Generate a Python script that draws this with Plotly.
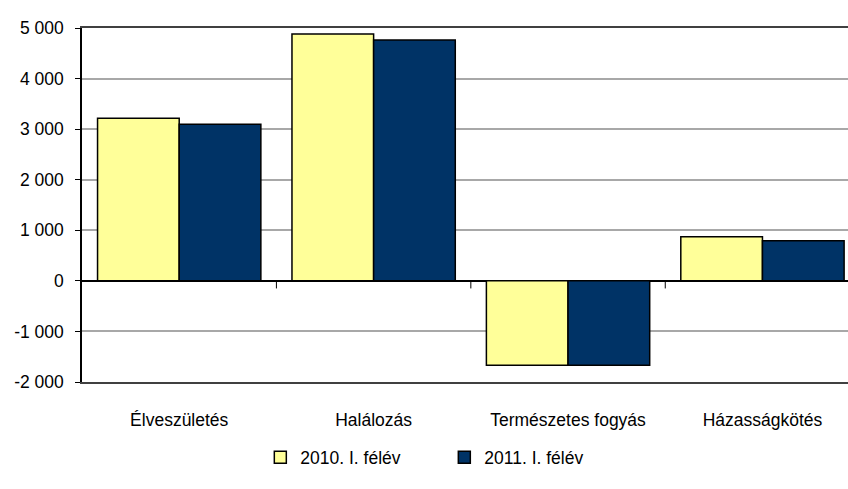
import plotly.graph_objects as go

categories = ["Élveszületés", "Halálozás", "Természetes fogyás", "Házasságkötés"]
values_2010 = [3214, 4881, -1667, 873]
values_2011 = [3095, 4762, -1667, 794]
series_names = ["2010. I. félév", "2011. I. félév"]

y_tickvals = [-2000, -1000, 0, 1000, 2000, 3000, 4000, 5000]
y_ticktext = ["-2 000", "-1 000", "0", "1 000", "2 000", "3 000", "4 000", "5 000"]

FONT = "Liberation Sans, Arial, sans-serif"

fig = go.Figure()

fig.add_trace(go.Bar(
    x=list(range(len(categories))), y=values_2010, name=series_names[0],
    marker=dict(color="#FFFF99", line=dict(color="#000000", width=1.5)),
))
fig.add_trace(go.Bar(
    x=list(range(len(categories))), y=values_2011, name=series_names[1],
    marker=dict(color="#003366", line=dict(color="#000000", width=1.5)),
))

# tick marks on the zero line between categories
for b in [0.5, 1.5, 2.5]:
    fig.add_shape(type="line", xref="x", yref="y", x0=b, x1=b, y0=0, y1=-150,
                  line=dict(color="#000000", width=1))

fig.update_layout(
    width=848, height=489,
    margin=dict(l=82, r=0, t=28, b=107),
    paper_bgcolor="white", plot_bgcolor="white",
    font=dict(family=FONT, size=17.5, color="#000000"),
    barmode="group", bargap=0.16, bargroupgap=0,
    showlegend=True,
    legend=dict(orientation="h", x=0.473, xanchor="center", y=-0.213, yanchor="middle",
                font=dict(size=17.5), itemclick=False, traceorder="normal",
                entrywidth=139),
    xaxis=dict(
        tickvals=list(range(len(categories))), ticktext=categories,
        range=[-0.5, 3.44], showgrid=False, ticks="",
        showline=True, linecolor="#404040", linewidth=2, mirror=True,
        ticklabelstandoff=21, zeroline=False, automargin=False,
    ),
    yaxis=dict(
        range=[-2000, 5000], tickvals=y_tickvals, ticktext=y_ticktext,
        showgrid=True, gridcolor="#A8A8A8", gridwidth=1.5,
        showline=True, linecolor="#000000", linewidth=1.5,
        ticks="outside", ticklen=5, tickcolor="#000000",
        ticklabelstandoff=8,
        zeroline=True, zerolinecolor="#000000", zerolinewidth=1.5,
        automargin=False,
    ),
)

fig.write_html("out.html", config={"displayModeBar": False},
               post_script="document.body.style.margin='0';")
